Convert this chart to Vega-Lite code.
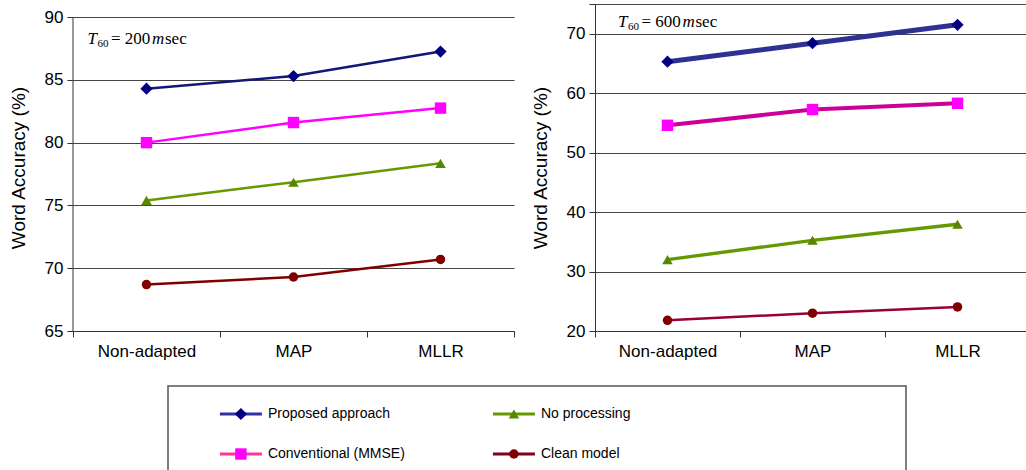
{
  "$schema": "https://vega.github.io/schema/vega-lite/v6.json",
  "padding": {"left": 9, "top": 3, "right": 0, "bottom": 0},
  "config": {
    "font": "Liberation Sans",
    "view": {"stroke": null},
    "axis": {
      "labelFont": "Liberation Sans", "titleFont": "Liberation Sans",
      "labelColor": "#000", "titleColor": "#000", "titleFontWeight": "normal",
      "labelFontSize": 17, "titleFontSize": 19,
      "domainColor": "#333", "tickColor": "#333", "gridColor": "#444", "gridOpacity": 1
    }
  },
  "datasets": {
    "acc": [
      {"panel": "200", "cond": "Non-adapted", "series": "Proposed approach", "acc": 84.3},
      {"panel": "200", "cond": "MAP", "series": "Proposed approach", "acc": 85.3},
      {"panel": "200", "cond": "MLLR", "series": "Proposed approach", "acc": 87.25},
      {"panel": "200", "cond": "Non-adapted", "series": "Conventional (MMSE)", "acc": 80.0},
      {"panel": "200", "cond": "MAP", "series": "Conventional (MMSE)", "acc": 81.6},
      {"panel": "200", "cond": "MLLR", "series": "Conventional (MMSE)", "acc": 82.75},
      {"panel": "200", "cond": "Non-adapted", "series": "No processing", "acc": 75.4},
      {"panel": "200", "cond": "MAP", "series": "No processing", "acc": 76.85},
      {"panel": "200", "cond": "MLLR", "series": "No processing", "acc": 78.35},
      {"panel": "200", "cond": "Non-adapted", "series": "Clean model", "acc": 68.7},
      {"panel": "200", "cond": "MAP", "series": "Clean model", "acc": 69.3},
      {"panel": "200", "cond": "MLLR", "series": "Clean model", "acc": 70.7},
      {"panel": "600", "cond": "Non-adapted", "series": "Proposed approach", "acc": 65.3},
      {"panel": "600", "cond": "MAP", "series": "Proposed approach", "acc": 68.4},
      {"panel": "600", "cond": "MLLR", "series": "Proposed approach", "acc": 71.5},
      {"panel": "600", "cond": "Non-adapted", "series": "Conventional (MMSE)", "acc": 54.6},
      {"panel": "600", "cond": "MAP", "series": "Conventional (MMSE)", "acc": 57.25},
      {"panel": "600", "cond": "MLLR", "series": "Conventional (MMSE)", "acc": 58.3},
      {"panel": "600", "cond": "Non-adapted", "series": "No processing", "acc": 32.0},
      {"panel": "600", "cond": "MAP", "series": "No processing", "acc": 35.25},
      {"panel": "600", "cond": "MLLR", "series": "No processing", "acc": 37.95},
      {"panel": "600", "cond": "Non-adapted", "series": "Clean model", "acc": 21.8},
      {"panel": "600", "cond": "MAP", "series": "Clean model", "acc": 23.0},
      {"panel": "600", "cond": "MLLR", "series": "Clean model", "acc": 24.05}
    ],
    "legend": [
      {"series": "Proposed approach", "col": 1, "row": 1},
      {"series": "No processing", "col": 2, "row": 1},
      {"series": "Conventional (MMSE)", "col": 1, "row": 2},
      {"series": "Clean model", "col": 2, "row": 2}
    ],
    "empty": []
  },
  "resolve": {"scale": {"x": "independent", "y": "independent", "color": "independent", "fill": "independent", "shape": "independent", "size": "independent", "strokeWidth": "independent"}},
  "spacing": 26,
  "vconcat": [
    {
      "spacing": 16,
      "resolve": {"scale": {"x": "independent", "y": "independent", "color": "independent", "fill": "independent", "shape": "independent", "size": "independent", "strokeWidth": "independent"}},
      "hconcat": [
        {
          "width": 441, "height": 327,
          "layer": [
            {"data": {"name": "acc"}, "transform": [{"filter": "datum.panel == '200'"}],
             "mark": {"type": "line", "strokeWidth": 2.5},
             "encoding": {
               "x": {"field": "cond", "type": "nominal", "sort": ["Non-adapted", "MAP", "MLLR"],
                  "scale": {"type": "band", "paddingInner": 0, "paddingOuter": 0},
                  "axis": {"title": null, "labelAngle": 0, "labelAlign": "center", "labelBaseline": "top", "tickBand": "extent", "grid": false, "tickSize": 6, "labelPadding": 6}},
               "y": {"field": "acc", "type": "quantitative",
                  "scale": {"domain": [65, 91.04], "nice": false, "zero": false},
                  "axis": {"title": "Word Accuracy (%)", "values": [65, 70, 75, 80, 85, 90], "grid": true, "domain": false, "tickSize": 6, "labelPadding": 4, "titlePadding": 16}},
               "color": {"field": "series", "type": "nominal",
               "scale": {"domain": ["Proposed approach", "Conventional (MMSE)", "No processing", "Clean model"], "range": ["#14147a", "#ff00ff", "#669900", "#800000"]}, "legend": null}}},
            {"data": {"name": "acc"}, "transform": [{"filter": "datum.panel == '200'"}],
             "mark": {"type": "point", "filled": true, "opacity": 1},
             "encoding": {
               "x": {"field": "cond", "type": "nominal", "sort": ["Non-adapted", "MAP", "MLLR"]},
               "y": {"field": "acc", "type": "quantitative"},
               "shape": {"field": "series", "type": "nominal", "scale": {"domain": ["Proposed approach", "Conventional (MMSE)", "No processing", "Clean model"], "range": ["diamond", "square", "triangle-up", "circle"]}, "legend": null},
               "fill": {"field": "series", "type": "nominal", "scale": {"domain": ["Proposed approach", "Conventional (MMSE)", "No processing", "Clean model"], "range": ["#000080", "#ff00ff", "#558800", "#800000"]}, "legend": null},
               "size": {"field": "series", "type": "ordinal", "scale": {"domain": ["Proposed approach", "Conventional (MMSE)", "No processing", "Clean model"], "range": [150, 90, 130, 140]}, "legend": null}}},
            {"data": {"values": [{"k": 1}]}, "mark": {"type": "rule", "color": "#333"},
             "encoding": {"x": {"datum": "Non-adapted", "bandPosition": 0}, "y": {"datum": 65}, "y2": {"datum": 90}}},
            {"data": {"values": [{"k": 1}]}, "mark": {"type": "text", "font": "Liberation Serif", "fontSize": 17, "fontStyle": "italic", "align": "left", "baseline": "middle", "dx": -59, "color": "#000", "text": "T"},
             "encoding": {"x": {"datum": "Non-adapted"}, "y": {"datum": 88.25}}},
            {"data": {"values": [{"k": 1}]}, "mark": {"type": "text", "font": "Liberation Serif", "fontSize": 11, "align": "left", "baseline": "middle", "dx": -49, "dy": 5, "color": "#000", "text": "60"},
             "encoding": {"x": {"datum": "Non-adapted"}, "y": {"datum": 88.25}}},
            {"data": {"values": [{"k": 1}]}, "mark": {"type": "text", "font": "Liberation Serif", "fontSize": 17, "align": "left", "baseline": "middle", "dx": -35.5, "color": "#000", "text": "= 200"},
             "encoding": {"x": {"datum": "Non-adapted"}, "y": {"datum": 88.25}}},
            {"data": {"values": [{"k": 1}]}, "mark": {"type": "text", "font": "Liberation Serif", "fontSize": 17, "fontStyle": "italic", "align": "left", "baseline": "middle", "dx": 5.5, "color": "#000", "text": "m"},
             "encoding": {"x": {"datum": "Non-adapted"}, "y": {"datum": 88.25}}},
            {"data": {"values": [{"k": 1}]}, "mark": {"type": "text", "font": "Liberation Serif", "fontSize": 17, "align": "left", "baseline": "middle", "dx": 18.5, "color": "#000", "text": "sec"},
             "encoding": {"x": {"datum": "Non-adapted"}, "y": {"datum": 88.25}}}
          ]
        },
        {
          "width": 435, "height": 327,
          "layer": [
            {"data": {"name": "acc"}, "transform": [{"filter": "datum.panel == '600'"}],
             "mark": {"type": "line"},
             "encoding": {
               "x": {"field": "cond", "type": "nominal", "sort": ["Non-adapted", "MAP", "MLLR"],
                  "scale": {"type": "band", "paddingInner": 0, "paddingOuter": 0},
                  "axis": {"title": null, "labelAngle": 0, "labelAlign": "center", "labelBaseline": "top", "tickBand": "extent", "grid": false, "tickSize": 6, "labelPadding": 6}},
               "y": {"field": "acc", "type": "quantitative",
                  "scale": {"domain": [20, 75], "nice": false, "zero": false},
                  "axis": {"title": "Word Accuracy (%)", "values": [20, 30, 40, 50, 60, 70, 75], "labelExpr": "datum.value == 75 ? '' : datum.label", "grid": true, "tickSize": 6, "labelPadding": 4, "titlePadding": 16}},
               "color": {"field": "series", "type": "nominal",
                 "scale": {"domain": ["Proposed approach", "Conventional (MMSE)", "No processing", "Clean model"], "range": ["#2e3192", "#cc0099", "#669900", "#990033"]}, "legend": null},
               "strokeWidth": {"field": "series", "type": "ordinal", "scale": {"domain": ["Proposed approach", "Conventional (MMSE)", "No processing", "Clean model"], "range": [5, 2.5, 2.5, 2.5]}, "legend": null}}},
            {"data": {"name": "acc"}, "transform": [{"filter": "datum.panel == '600'"}],
             "mark": {"type": "point", "filled": true, "opacity": 1},
             "encoding": {
               "x": {"field": "cond", "type": "nominal", "sort": ["Non-adapted", "MAP", "MLLR"]},
               "y": {"field": "acc", "type": "quantitative"},
               "shape": {"field": "series", "type": "nominal", "scale": {"domain": ["Proposed approach", "Conventional (MMSE)", "No processing", "Clean model"], "range": ["diamond", "square", "triangle-up", "circle"]}, "legend": null},
               "fill": {"field": "series", "type": "nominal", "scale": {"domain": ["Proposed approach", "Conventional (MMSE)", "No processing", "Clean model"], "range": ["#000080", "#ff00ff", "#558800", "#800000"]}, "legend": null},
               "size": {"field": "series", "type": "ordinal", "scale": {"domain": ["Proposed approach", "Conventional (MMSE)", "No processing", "Clean model"], "range": [150, 90, 130, 140]}, "legend": null}}},
            {"data": {"values": [{"k": 1}]}, "mark": {"type": "text", "font": "Liberation Serif", "fontSize": 17, "fontStyle": "italic", "align": "left", "baseline": "middle", "dx": -49.5, "color": "#000", "text": "T"},
             "encoding": {"x": {"datum": "Non-adapted"}, "y": {"datum": 72.0}}},
            {"data": {"values": [{"k": 1}]}, "mark": {"type": "text", "font": "Liberation Serif", "fontSize": 11, "align": "left", "baseline": "middle", "dx": -39.5, "dy": 5, "color": "#000", "text": "60"},
             "encoding": {"x": {"datum": "Non-adapted"}, "y": {"datum": 72.0}}},
            {"data": {"values": [{"k": 1}]}, "mark": {"type": "text", "font": "Liberation Serif", "fontSize": 17, "align": "left", "baseline": "middle", "dx": -26, "color": "#000", "text": "= 600"},
             "encoding": {"x": {"datum": "Non-adapted"}, "y": {"datum": 72.0}}},
            {"data": {"values": [{"k": 1}]}, "mark": {"type": "text", "font": "Liberation Serif", "fontSize": 17, "fontStyle": "italic", "align": "left", "baseline": "middle", "dx": 15, "color": "#000", "text": "m"},
             "encoding": {"x": {"datum": "Non-adapted"}, "y": {"datum": 72.0}}},
            {"data": {"values": [{"k": 1}]}, "mark": {"type": "text", "font": "Liberation Serif", "fontSize": 17, "align": "left", "baseline": "middle", "dx": 28, "color": "#000", "text": "sec"},
             "encoding": {"x": {"datum": "Non-adapted"}, "y": {"datum": 72.0}}}
          ]
        }
      ]
    },
    {
      "spacing": 14,
      "hconcat": [
        {"width": 80, "height": 86, "data": {"name": "empty"}, "mark": "point"},
        {
          "width": 738, "height": 86,
          "view": {"stroke": "#555", "strokeWidth": 1.5},
          "data": {"name": "legend"},
          "encoding": {
            "x": {"field": "col", "type": "quantitative", "scale": {"domain": [0.733, 3.436], "nice": false, "zero": false}, "axis": null},
            "y": {"field": "row", "type": "quantitative", "scale": {"domain": [0.3, 2.45], "nice": false, "zero": false, "reverse": true}, "axis": null}
          },
          "layer": [
            {"mark": {"type": "point", "filled": true, "opacity": 1, "size": 1764, "shape": "M-1,-0.075H1V0.075H-1Z"},
             "encoding": {"fill": {"field": "series", "type": "nominal",
               "scale": {"domain": ["Proposed approach", "Conventional (MMSE)", "No processing", "Clean model"], "range": ["#3333a0", "#ff3399", "#669900", "#800020"]}, "legend": null}}},
            {"mark": {"type": "point", "filled": true, "opacity": 1},
             "encoding": {
               "shape": {"field": "series", "type": "nominal", "scale": {"domain": ["Proposed approach", "Conventional (MMSE)", "No processing", "Clean model"], "range": ["diamond", "square", "triangle-up", "circle"]}, "legend": null},
               "color": {"field": "series", "type": "nominal", "scale": {"domain": ["Proposed approach", "Conventional (MMSE)", "No processing", "Clean model"], "range": ["#000080", "#ff00ff", "#558800", "#800000"]}, "legend": null},
               "size": {"field": "series", "type": "ordinal", "scale": {"domain": ["Proposed approach", "Conventional (MMSE)", "No processing", "Clean model"], "range": [150, 90, 130, 140]}, "legend": null}}},
            {"mark": {"type": "text", "align": "left", "baseline": "middle", "fontSize": 14, "dx": 27, "font": "Liberation Sans", "color": "#000"},
             "encoding": {"text": {"field": "series", "type": "nominal"}}}
          ]
        }
      ]
    }
  ]
}
